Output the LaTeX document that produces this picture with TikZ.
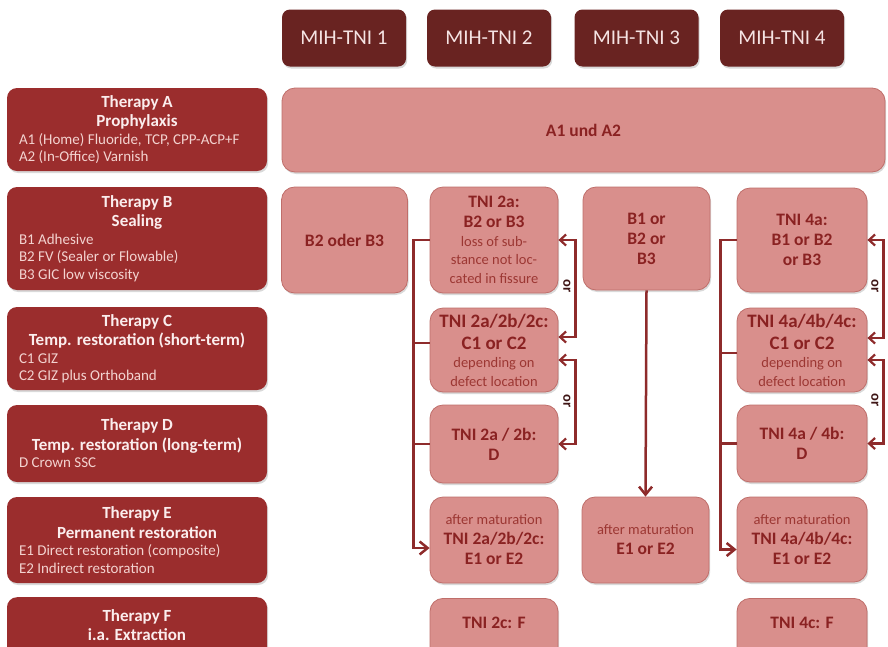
\documentclass[tikz,border=0pt]{standalone}
\usepackage{fontspec}
\setmainfont{Carlito}
\usetikzlibrary{arrows.meta,shadows}
\definecolor{hdr}{HTML}{692321}
\definecolor{hdrtext}{HTML}{F5E3E3}
\definecolor{thr}{HTML}{9B2D2D}
\definecolor{thrtitle}{HTML}{FBEDED}
\definecolor{thritem}{HTML}{F3D3D0}
\definecolor{pinkfill}{HTML}{D98F8C}
\definecolor{pinkline}{HTML}{BF6E6A}
\definecolor{pinkbold}{HTML}{8A2222}
\definecolor{pinkreg}{HTML}{9C3733}
\definecolor{conn}{HTML}{8E2B2B}
\definecolor{ortext}{HTML}{3E1515}
\newcommand{\pkB}{\fontsize{17.5}{20}\selectfont\bfseries\color{pinkbold}}
\newcommand{\pkBB}{\fontsize{19}{22}\selectfont\bfseries\color{pinkbold}}
\newcommand{\pkR}{\fontsize{14.5}{18.5}\selectfont\mdseries\color{pinkreg}}
\newcommand{\thT}{\fontsize{17}{19.5}\selectfont\bfseries\color{thrtitle}}
\newcommand{\thI}{\fontsize{15}{17.5}\selectfont\mdseries\color{thritem}}
\begin{document}
\begin{tikzpicture}[x=1pt,y=-1pt,
  shd/.style={drop shadow={opacity=0.3,shadow xshift=1.2pt,shadow yshift=-2pt}},
  hdrbox/.style={shd,rounded corners=8pt,fill=hdr,text=hdrtext,minimum width=124pt,minimum height=57pt,inner sep=0pt,font=\fontsize{21}{25}\selectfont},
  thrbox/.style={shd,rounded corners=10pt,fill=thr,minimum width=260pt,inner xsep=12pt,inner ysep=0pt,text width=236pt,align=flush left},
  thrtext/.style={inner sep=0pt,text width=236pt,align=flush left},
  pinkbox/.style={shd,rounded corners=13pt,fill=pinkfill,draw=pinkline,line width=0.8pt,align=flush center,inner xsep=4pt,inner ysep=0pt,text width=118pt,font=\pkB},
  connline/.style={draw=conn,line width=2.5pt},
  connarrow/.style={connline,-{Straight Barb[length=8pt,width=13pt]}},
  orarrow/.style={draw=conn,line width=2.2pt,{Straight Barb[length=6pt,width=11pt]}-{Straight Barb[length=6pt,width=11pt]}},
  ortxt/.style={rotate=-90,inner sep=0pt,text=ortext,font=\fontsize{14.5}{16}\selectfont\bfseries}
]
\useasboundingbox (0,0) rectangle (888,646);
\clip (0,0) rectangle (888,646);

% headers
\node[hdrbox] (h1) at (344,38) {MIH-TNI 1};
\node[hdrbox] (h2) at (489,38) {MIH-TNI 2};
\node[hdrbox] (h3) at (636.5,38) {MIH-TNI 3};
\node[hdrbox] (h4) at (782,38) {MIH-TNI 4};

% therapy boxes
\node[thrbox,minimum height=83pt] (tA) at (137,129.5) {{\centering\thT Therapy A\par Prophylaxis\par}\thI A1 (Home) Fluoride, TCP, CPP-ACP+F\par A2 (In-Office) Varnish\par};
\node[thrbox,minimum height=103pt] (tB) at (137,238.5) {{\centering\thT Therapy B\par Sealing\par}\thI B1 Adhesive\par B2 FV (Sealer or Flowable)\par B3 GIC low viscosity\par};
\node[thrbox,minimum height=83pt] (tC) at (137,348.5) {{\centering\thT Therapy C\par Temp. restoration (short-term)\par}\thI C1 GIZ\par C2 GIZ plus Orthoband\par};
\node[thrbox,minimum height=77pt] (tD) at (137,443.5) {{\centering\thT Therapy D\par Temp. restoration (long-term)\par}\thI D Crown SSC\par};
\node[thrbox,minimum height=86pt] (tE) at (137,540) {{\centering\thT Therapy E\par Permanent restoration\par}\thI E1 Direct restoration (composite)\par E2 Indirect restoration\par};
\node[thrbox,minimum height=62pt,anchor=north] (tF) at (137,597) {};
\node[thrtext] (tFt) at (137,625) {{\centering\thT Therapy F\par i.a. Extraction\par}};

% therapy A row
\node[pinkbox,minimum width=603pt,minimum height=84pt] (a) at (583.5,130) {A1 und A2};

% column 1
\node[pinkbox,minimum width=125pt,minimum height=106pt] (b1) at (344.5,240) {B2 oder B3};

% column 2
\node[pinkbox,minimum width=128pt,minimum height=106pt] (b2) at (494,240) {TNI 2a:\par B2 or B3\par{\pkR loss of sub-\par stance not loc-\par cated in fissure\par}};
\node[pinkbox,minimum width=128pt,minimum height=84pt,font=\pkBB] (c2) at (494,350) {TNI 2a/2b/2c:\par C1 or C2\par{\pkR depending on\par defect location\par}};
\node[pinkbox,minimum width=128pt,minimum height=78pt] (d2) at (494,444) {TNI 2a / 2b:\par D};
\node[pinkbox,minimum width=128pt,minimum height=86pt] (e2) at (494,540) {{\pkR after maturation\par}TNI 2a/2b/2c:\par E1 or E2};
\node[pinkbox,minimum width=128pt,minimum height=62pt,anchor=north] (f2) at (494,598) {};
\node[inner sep=0pt,font=\pkB] (f2t) at (494,623) {TNI 2c: F};

% column 3
\node[pinkbox,minimum width=127pt,minimum height=103pt] (b3) at (646.5,238.5) {B1 or\par B2 or\par B3};
\node[pinkbox,minimum width=127pt,minimum height=86pt] (e3) at (645.5,540) {{\pkR after maturation\par}E1 or E2};

% column 4
\node[pinkbox,minimum width=130pt,minimum height=104pt] (b4) at (802,240) {TNI 4a:\par B1 or B2\par or B3};
\node[pinkbox,minimum width=130pt,minimum height=84pt,font=\pkBB] (c4) at (802,350) {TNI 4a/4b/4c:\par C1 or C2\par{\pkR depending on\par defect location\par}};
\node[pinkbox,minimum width=130pt,minimum height=77pt] (d4) at (802,443.5) {TNI 4a / 4b:\par D};
\node[pinkbox,minimum width=130pt,minimum height=85pt] (e4) at (802,539.5) {{\pkR after maturation\par}TNI 4a/4b/4c:\par E1 or E2};
\node[pinkbox,minimum width=130pt,minimum height=62pt,anchor=north] (f4) at (802,598) {};
\node[inner sep=0pt,font=\pkB] (f4t) at (802,623) {TNI 4c: F};

% column 2 connectors
\draw[connarrow] (b2.west) -- ++(-16,0) |- ([yshift=-8pt]e2.west);
\draw[connline] ([yshift=7pt]c2.west) -- ++(-16,0);
\draw[connline] (d2.west) -- ++(-16,0);
\draw[orarrow] (b2.east) -- ++(17,0) |- ([yshift=13pt]c2.east);
\draw[orarrow] ([yshift=-10pt]c2.east) -- ++(17,0) |- (d2.east);
\node[ortxt] (or1) at (567,286) {or};
\node[ortxt] (or2) at (567,401) {or};

% column 3 connector
\draw[connarrow] (b3.south) -- (e3.north);

% column 4 connectors
\draw[connarrow] (b4.west) -- ++(-16,0) |- ([yshift=-10pt]e4.west);
\draw[connline] ([yshift=-3pt]c4.west) -- ++(-16,0);
\draw[connline] (d4.west) -- ++(-16,0);
\draw[orarrow] (b4.east) -- ++(16,0) |- ([yshift=12pt]c4.east);
\draw[orarrow] ([yshift=-10pt]c4.east) -- ++(16,0) |- (d4.east);
\node[ortxt] (or3) at (875,286) {or};
\node[ortxt] (or4) at (875,400) {or};
\end{tikzpicture}
\end{document}
